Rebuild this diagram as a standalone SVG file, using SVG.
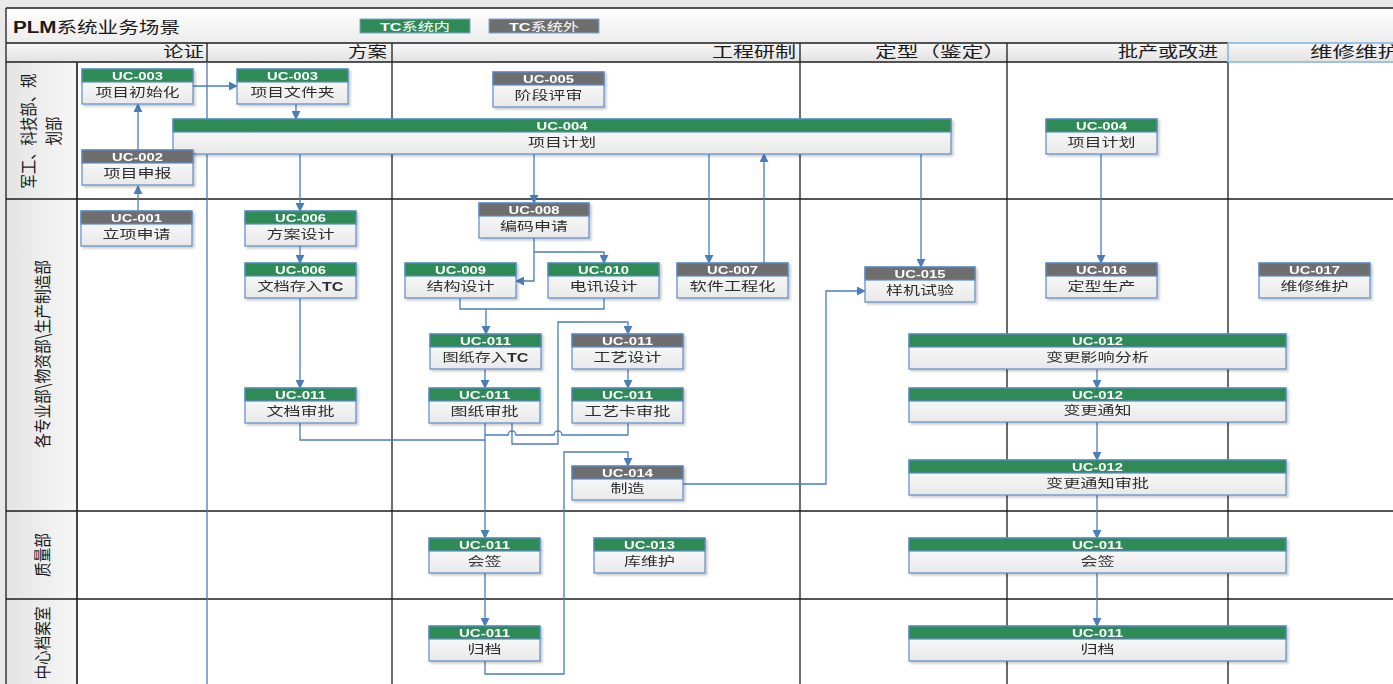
<svg xmlns="http://www.w3.org/2000/svg" width="1393" height="684" viewBox="0 0 1393 684">
<defs>
<style>
.ln{fill:none;stroke:#4a7ebb;stroke-width:1.3}
.ar{marker-end:url(#ah)}
.gd{stroke:#1e1e1e;stroke-width:1.3;fill:none}
.nb{fill:url(#gb);stroke:#5b8cc8;stroke-width:1.2}
.hg{fill:#2e8b57;stroke:#5b8cc8;stroke-width:1.2}
.hy{fill:#6e6e6e;stroke:#5b8cc8;stroke-width:1.2}
.hd{font-family:"Liberation Sans",Arial,sans-serif;font-weight:bold;font-size:11px;fill:#ffffff;text-anchor:middle}
.bt{font-family:"Noto Sans CJK SC","Noto Sans",sans-serif;font-size:12.5px;fill:#2e2e2e;text-anchor:middle}
.ch{font-family:"Noto Sans CJK SC","Noto Sans",sans-serif;font-size:15px;fill:#1a1a1a}
.lb{font-family:"Noto Sans CJK SC","Noto Sans",sans-serif;font-size:17px;fill:#1a1a1a;text-anchor:middle;dominant-baseline:central}
.node{filter:url(#sh)}
</style>
<linearGradient id="gb" x1="0" y1="0" x2="0" y2="1"><stop offset="0" stop-color="#ffffff"/><stop offset="1" stop-color="#e9e9e9"/></linearGradient>
<linearGradient id="gt" x1="0" y1="0" x2="0" y2="1"><stop offset="0" stop-color="#ffffff"/><stop offset="1" stop-color="#ececec"/></linearGradient>
<linearGradient id="gh" x1="0" y1="0" x2="0" y2="1"><stop offset="0" stop-color="#f8f8f8"/><stop offset="1" stop-color="#e2e2e2"/></linearGradient>
<linearGradient id="gl" x1="0" y1="0" x2="1" y2="0"><stop offset="0" stop-color="#e4e4e4"/><stop offset="1" stop-color="#f7f7f7"/></linearGradient>
<filter id="sh" x="-5%" y="-10%" width="115%" height="140%"><feDropShadow dx="2" dy="2" stdDeviation="1" flood-color="#000" flood-opacity="0.2"/></filter>
<marker id="ah" viewBox="0 0 10 10" refX="9" refY="5" markerWidth="9" markerHeight="9" markerUnits="userSpaceOnUse" orient="auto"><path d="M0,0 L10,5 L0,10 z" fill="#4a7ebb"/></marker>
</defs>

<!-- background and frame -->
<rect x="0" y="0" width="1393" height="684" fill="#e9e9e9"/>
<rect x="6" y="8" width="1387" height="676" fill="#ffffff"/>
<rect x="6" y="8" width="1387" height="35" fill="url(#gt)"/>
<rect x="6" y="43" width="1387" height="19" fill="url(#gh)"/>
<rect x="6" y="62" width="71" height="622" fill="url(#gl)"/>

<g id="title">
<text x="13" y="33" textLength="167" lengthAdjust="spacingAndGlyphs" style="font-family:'Liberation Sans','Noto Sans CJK SC',sans-serif;font-size:16px;fill:#1a1a1a"><tspan font-weight="bold">PLM</tspan><tspan style="font-family:'Noto Sans CJK SC',sans-serif">系统业务场景</tspan></text>
</g>
<g id="legend">
<rect x="360" y="19" width="110" height="14" fill="#2e8b57" stroke="#7fa6d3" stroke-width="1"/>
<text x="415" y="30.5" textLength="70" lengthAdjust="spacingAndGlyphs" style="font-family:'Liberation Sans','Noto Sans CJK SC',sans-serif;font-size:11.5px;fill:#ffffff;text-anchor:middle"><tspan font-weight="bold">TC</tspan><tspan style="font-family:'Noto Sans CJK SC',sans-serif">系统内</tspan></text>
<rect x="489" y="19" width="110" height="14" fill="#6e6e6e" stroke="#7fa6d3" stroke-width="1"/>
<text x="544" y="30.5" textLength="70" lengthAdjust="spacingAndGlyphs" style="font-family:'Liberation Sans','Noto Sans CJK SC',sans-serif;font-size:11.5px;fill:#ffffff;text-anchor:middle"><tspan font-weight="bold">TC</tspan><tspan style="font-family:'Noto Sans CJK SC',sans-serif">系统外</tspan></text>
</g>

<!-- grid -->
<g id="grid">
<path class="gd" d="M6,8 H1393 M6,43 H1393 M6,62 H1393 M6,8 V684"/>
<path class="gd" d="M207,43 V62 M392,43 V684 M800,43 V684 M1007,43 V684 M1228,43 V684"/>
<path d="M77,62 V684" stroke="#444" stroke-width="2"/>
<path class="gd" d="M6,199 H1393 M6,511 H1393 M6,599 H1393"/>
<path d="M1228,43 V62 M1228,43 H1393 M1228,62 H1393" stroke="#9cc0e6" stroke-width="2" fill="none"/>
</g>

<g id="phases">
<text class="ch" x="163" y="57" textLength="41" lengthAdjust="spacingAndGlyphs">论证</text>
<text class="ch" x="348" y="57" textLength="39" lengthAdjust="spacingAndGlyphs">方案</text>
<text class="ch" x="712" y="57" textLength="84" lengthAdjust="spacingAndGlyphs">工程研制</text>
<text class="ch" x="875" y="57" textLength="130" lengthAdjust="spacingAndGlyphs">定型（鉴定）</text>
<text class="ch" x="1118" y="57" textLength="100" lengthAdjust="spacingAndGlyphs">批产或改进</text>
<text class="ch" x="1310" y="57" textLength="90" lengthAdjust="spacingAndGlyphs">维修维护</text>
</g>

<g id="lanes">
<text class="lb" transform="translate(27,131) rotate(-90)" textLength="115" lengthAdjust="spacingAndGlyphs">军工、科技部、规</text>
<text class="lb" transform="translate(52,131) rotate(-90)" textLength="29" lengthAdjust="spacingAndGlyphs">划部</text>
<text class="lb" transform="translate(41,354) rotate(-90)" textLength="188" lengthAdjust="spacingAndGlyphs">各专业部\物资部\生产制造部</text>
<text class="lb" transform="translate(41,555) rotate(-90)" textLength="44" lengthAdjust="spacingAndGlyphs">质量部</text>
<text class="lb" transform="translate(41,643) rotate(-90)" textLength="73" lengthAdjust="spacingAndGlyphs">中心档案室</text>
</g>

<!-- connectors -->
<g id="connectors">
<path class="ln" d="M207,62 V684"/>
<path class="ln ar" d="M138,211 V186"/>
<path class="ln ar" d="M138,150 V104"/>
<path class="ln ar" d="M193,86 H237"/>
<path class="ln ar" d="M296,104 V119"/>
<path class="ln ar" d="M300,154 V211"/>
<path class="ln ar" d="M300,246 V263"/>
<path class="ln ar" d="M300,298 V388"/>
<path class="ln" d="M300,423 V440 H485"/>
<path class="ln ar" d="M534,154 V203"/>
<path class="ln ar" d="M534,238 V281 H516"/>
<path class="ln ar" d="M534,252 H604 V263"/>
<path class="ln ar" d="M709,154 V263"/>
<path class="ln ar" d="M764,263 V154"/>
<path class="ln ar" d="M921,154 V267"/>
<path class="ln ar" d="M1101,154 V263"/>
<path class="ln" d="M460,298 V309 H604 V298"/>
<path class="ln ar" d="M486,309 V334"/>
<path class="ln ar" d="M485,369 V388"/>
<path class="ln ar" d="M628,369 V388"/>
<path class="ln ar" d="M512,423 V444 H558 V322 H628 V334"/>
<path class="ln" d="M628,423 V435 H562 a4,4 0 0 0 -8,0 H516 a4,4 0 0 0 -8,0 H485"/>
<path class="ln ar" d="M485,423 V538"/>
<path class="ln ar" d="M485,573 V626"/>
<path class="ln ar" d="M485,661 V674 H564 V452 H628 V466"/>
<path class="ln ar" d="M683,484 H826 V291 H865"/>
<path class="ln ar" d="M1097,369 V388"/>
<path class="ln ar" d="M1097,422 V460"/>
<path class="ln ar" d="M1097,495 V538"/>
<path class="ln ar" d="M1097,573 V626"/>
</g>

<!-- nodes -->
<g id="n-uc003-init" class="node"><rect class="nb" x="82" y="69" width="111" height="35"/><rect class="hg" x="82" y="69" width="111" height="13"/><text class="hd" x="137.5" y="80" textLength="51" lengthAdjust="spacingAndGlyphs">UC-003</text><text class="bt" x="137.5" y="96.5" textLength="84" lengthAdjust="spacingAndGlyphs">项目初始化</text></g>
<g id="n-uc003-folder" class="node"><rect class="nb" x="237" y="69" width="111" height="35"/><rect class="hg" x="237" y="69" width="111" height="13"/><text class="hd" x="292.5" y="80" textLength="51" lengthAdjust="spacingAndGlyphs">UC-003</text><text class="bt" x="292.5" y="96.5" textLength="84" lengthAdjust="spacingAndGlyphs">项目文件夹</text></g>
<g id="n-uc005" class="node"><rect class="nb" x="493" y="72" width="111" height="35"/><rect class="hy" x="493" y="72" width="111" height="13"/><text class="hd" x="548.5" y="83" textLength="51" lengthAdjust="spacingAndGlyphs">UC-005</text><text class="bt" x="548.5" y="99.5" textLength="68" lengthAdjust="spacingAndGlyphs">阶段评审</text></g>
<g id="n-uc004-plan" class="node"><rect class="nb" x="173" y="119" width="778" height="35"/><rect class="hg" x="173" y="119" width="778" height="13"/><text class="hd" x="562" y="130" textLength="51" lengthAdjust="spacingAndGlyphs">UC-004</text><text class="bt" x="562" y="146.5" textLength="68" lengthAdjust="spacingAndGlyphs">项目计划</text></g>
<g id="n-uc002" class="node"><rect class="nb" x="82" y="150" width="111" height="35"/><rect class="hy" x="82" y="150" width="111" height="13"/><text class="hd" x="137.5" y="161" textLength="51" lengthAdjust="spacingAndGlyphs">UC-002</text><text class="bt" x="137.5" y="177.5" textLength="68" lengthAdjust="spacingAndGlyphs">项目申报</text></g>
<g id="n-uc004-plan2" class="node"><rect class="nb" x="1046" y="119" width="111" height="35"/><rect class="hg" x="1046" y="119" width="111" height="13"/><text class="hd" x="1101.5" y="130" textLength="51" lengthAdjust="spacingAndGlyphs">UC-004</text><text class="bt" x="1101.5" y="146.5" textLength="68" lengthAdjust="spacingAndGlyphs">项目计划</text></g>
<g id="n-uc001" class="node"><rect class="nb" x="81" y="211" width="111" height="35"/><rect class="hy" x="81" y="211" width="111" height="13"/><text class="hd" x="136.5" y="222" textLength="51" lengthAdjust="spacingAndGlyphs">UC-001</text><text class="bt" x="136.5" y="238.5" textLength="68" lengthAdjust="spacingAndGlyphs">立项申请</text></g>
<g id="n-uc006-design" class="node"><rect class="nb" x="245" y="211" width="111" height="35"/><rect class="hg" x="245" y="211" width="111" height="13"/><text class="hd" x="300.5" y="222" textLength="51" lengthAdjust="spacingAndGlyphs">UC-006</text><text class="bt" x="300.5" y="238.5" textLength="68" lengthAdjust="spacingAndGlyphs">方案设计</text></g>
<g id="n-uc006-doc" class="node"><rect class="nb" x="245" y="263" width="111" height="35"/><rect class="hg" x="245" y="263" width="111" height="13"/><text class="hd" x="300.5" y="274" textLength="51" lengthAdjust="spacingAndGlyphs">UC-006</text><text class="bt" x="300.5" y="290.5" textLength="86" lengthAdjust="spacingAndGlyphs">文档存入<tspan font-weight="bold" style="font-family:'Liberation Sans',sans-serif">TC</tspan></text></g>
<g id="n-uc008" class="node"><rect class="nb" x="479" y="203" width="110" height="35"/><rect class="hy" x="479" y="203" width="110" height="13"/><text class="hd" x="534" y="214" textLength="51" lengthAdjust="spacingAndGlyphs">UC-008</text><text class="bt" x="534" y="230.5" textLength="68" lengthAdjust="spacingAndGlyphs">编码申请</text></g>
<g id="n-uc009" class="node"><rect class="nb" x="405" y="263" width="111" height="35"/><rect class="hg" x="405" y="263" width="111" height="13"/><text class="hd" x="460.5" y="274" textLength="51" lengthAdjust="spacingAndGlyphs">UC-009</text><text class="bt" x="460.5" y="290.5" textLength="68" lengthAdjust="spacingAndGlyphs">结构设计</text></g>
<g id="n-uc010" class="node"><rect class="nb" x="548" y="263" width="111" height="35"/><rect class="hg" x="548" y="263" width="111" height="13"/><text class="hd" x="603.5" y="274" textLength="51" lengthAdjust="spacingAndGlyphs">UC-010</text><text class="bt" x="603.5" y="290.5" textLength="68" lengthAdjust="spacingAndGlyphs">电讯设计</text></g>
<g id="n-uc007" class="node"><rect class="nb" x="677" y="263" width="111" height="35"/><rect class="hy" x="677" y="263" width="111" height="13"/><text class="hd" x="732.5" y="274" textLength="51" lengthAdjust="spacingAndGlyphs">UC-007</text><text class="bt" x="732.5" y="290.5" textLength="86" lengthAdjust="spacingAndGlyphs">软件工程化</text></g>
<g id="n-uc015" class="node"><rect class="nb" x="865" y="267" width="110" height="35"/><rect class="hy" x="865" y="267" width="110" height="13"/><text class="hd" x="920" y="278" textLength="51" lengthAdjust="spacingAndGlyphs">UC-015</text><text class="bt" x="920" y="294.5" textLength="68" lengthAdjust="spacingAndGlyphs">样机试验</text></g>
<g id="n-uc016" class="node"><rect class="nb" x="1046" y="263" width="111" height="35"/><rect class="hy" x="1046" y="263" width="111" height="13"/><text class="hd" x="1101.5" y="274" textLength="51" lengthAdjust="spacingAndGlyphs">UC-016</text><text class="bt" x="1101.5" y="290.5" textLength="68" lengthAdjust="spacingAndGlyphs">定型生产</text></g>
<g id="n-uc017" class="node"><rect class="nb" x="1259" y="263" width="111" height="35"/><rect class="hy" x="1259" y="263" width="111" height="13"/><text class="hd" x="1314.5" y="274" textLength="51" lengthAdjust="spacingAndGlyphs">UC-017</text><text class="bt" x="1314.5" y="290.5" textLength="68" lengthAdjust="spacingAndGlyphs">维修维护</text></g>
<g id="n-uc011-drawtc" class="node"><rect class="nb" x="430" y="334" width="111" height="35"/><rect class="hg" x="430" y="334" width="111" height="13"/><text class="hd" x="485.5" y="345" textLength="51" lengthAdjust="spacingAndGlyphs">UC-011</text><text class="bt" x="485.5" y="361.5" textLength="86" lengthAdjust="spacingAndGlyphs">图纸存入<tspan font-weight="bold" style="font-family:'Liberation Sans',sans-serif">TC</tspan></text></g>
<g id="n-uc011-process" class="node"><rect class="nb" x="572" y="334" width="111" height="35"/><rect class="hy" x="572" y="334" width="111" height="13"/><text class="hd" x="627.5" y="345" textLength="51" lengthAdjust="spacingAndGlyphs">UC-011</text><text class="bt" x="627.5" y="361.5" textLength="68" lengthAdjust="spacingAndGlyphs">工艺设计</text></g>
<g id="n-uc012-impact" class="node"><rect class="nb" x="909" y="334" width="377" height="35"/><rect class="hg" x="909" y="334" width="377" height="13"/><text class="hd" x="1097.5" y="345" textLength="51" lengthAdjust="spacingAndGlyphs">UC-012</text><text class="bt" x="1097.5" y="361.5" textLength="103" lengthAdjust="spacingAndGlyphs">变更影响分析</text></g>
<g id="n-uc011-docapprove" class="node"><rect class="nb" x="245" y="388" width="111" height="35"/><rect class="hg" x="245" y="388" width="111" height="13"/><text class="hd" x="300.5" y="399" textLength="51" lengthAdjust="spacingAndGlyphs">UC-011</text><text class="bt" x="300.5" y="415.5" textLength="68" lengthAdjust="spacingAndGlyphs">文档审批</text></g>
<g id="n-uc011-drawapprove" class="node"><rect class="nb" x="429" y="388" width="111" height="35"/><rect class="hg" x="429" y="388" width="111" height="13"/><text class="hd" x="484.5" y="399" textLength="51" lengthAdjust="spacingAndGlyphs">UC-011</text><text class="bt" x="484.5" y="415.5" textLength="68" lengthAdjust="spacingAndGlyphs">图纸审批</text></g>
<g id="n-uc011-cardapprove" class="node"><rect class="nb" x="572" y="388" width="111" height="35"/><rect class="hg" x="572" y="388" width="111" height="13"/><text class="hd" x="627.5" y="399" textLength="51" lengthAdjust="spacingAndGlyphs">UC-011</text><text class="bt" x="627.5" y="415.5" textLength="86" lengthAdjust="spacingAndGlyphs">工艺卡审批</text></g>
<g id="n-uc012-notice" class="node"><rect class="nb" x="909" y="388" width="377" height="34"/><rect class="hg" x="909" y="388" width="377" height="13"/><text class="hd" x="1097.5" y="399" textLength="51" lengthAdjust="spacingAndGlyphs">UC-012</text><text class="bt" x="1097.5" y="415" textLength="68" lengthAdjust="spacingAndGlyphs">变更通知</text></g>
<g id="n-uc014" class="node"><rect class="nb" x="572" y="466" width="111" height="34"/><rect class="hy" x="572" y="466" width="111" height="13"/><text class="hd" x="627.5" y="477" textLength="51" lengthAdjust="spacingAndGlyphs">UC-014</text><text class="bt" x="627.5" y="493" textLength="34" lengthAdjust="spacingAndGlyphs">制造</text></g>
<g id="n-uc012-noticeapprove" class="node"><rect class="nb" x="909" y="460" width="377" height="35"/><rect class="hg" x="909" y="460" width="377" height="13"/><text class="hd" x="1097.5" y="471" textLength="51" lengthAdjust="spacingAndGlyphs">UC-012</text><text class="bt" x="1097.5" y="487.5" textLength="103" lengthAdjust="spacingAndGlyphs">变更通知审批</text></g>
<g id="n-uc011-sign" class="node"><rect class="nb" x="429" y="538" width="111" height="35"/><rect class="hg" x="429" y="538" width="111" height="13"/><text class="hd" x="484.5" y="549" textLength="51" lengthAdjust="spacingAndGlyphs">UC-011</text><text class="bt" x="484.5" y="565.5" textLength="34" lengthAdjust="spacingAndGlyphs">会签</text></g>
<g id="n-uc013" class="node"><rect class="nb" x="594" y="538" width="111" height="35"/><rect class="hg" x="594" y="538" width="111" height="13"/><text class="hd" x="649.5" y="549" textLength="51" lengthAdjust="spacingAndGlyphs">UC-013</text><text class="bt" x="649.5" y="565.5" textLength="51" lengthAdjust="spacingAndGlyphs">库维护</text></g>
<g id="n-uc011-sign2" class="node"><rect class="nb" x="909" y="538" width="377" height="35"/><rect class="hg" x="909" y="538" width="377" height="13"/><text class="hd" x="1097.5" y="549" textLength="51" lengthAdjust="spacingAndGlyphs">UC-011</text><text class="bt" x="1097.5" y="565.5" textLength="34" lengthAdjust="spacingAndGlyphs">会签</text></g>
<g id="n-uc011-archive" class="node"><rect class="nb" x="429" y="626" width="111" height="35"/><rect class="hg" x="429" y="626" width="111" height="13"/><text class="hd" x="484.5" y="637" textLength="51" lengthAdjust="spacingAndGlyphs">UC-011</text><text class="bt" x="484.5" y="653.5" textLength="34" lengthAdjust="spacingAndGlyphs">归档</text></g>
<g id="n-uc011-archive2" class="node"><rect class="nb" x="909" y="626" width="377" height="35"/><rect class="hg" x="909" y="626" width="377" height="13"/><text class="hd" x="1097.5" y="637" textLength="51" lengthAdjust="spacingAndGlyphs">UC-011</text><text class="bt" x="1097.5" y="653.5" textLength="34" lengthAdjust="spacingAndGlyphs">归档</text></g>
</svg>
